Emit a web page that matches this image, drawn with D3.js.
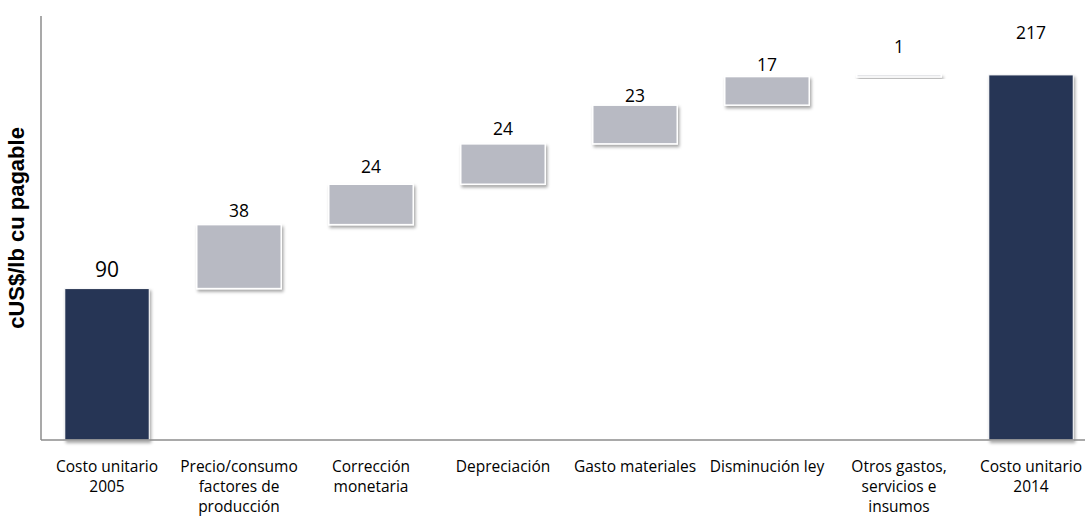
<!DOCTYPE html>
<html>
<head>
<meta charset="utf-8">
<script src="https://cdn.jsdelivr.net/npm/d3@7"></script>
<style>
  body { margin: 0; background: #fff; }
  svg { display: block; }
</style>
</head>
<body>
<div id="chart"></div>
<script>
// waterfall data: step categories and their deltas
var categories = [
  "Costo unitario\n2005",
  "Precio/consumo\nfactores de\nproducción",
  "Corrección\nmonetaria",
  "Depreciación",
  "Gasto materiales",
  "Disminución ley",
  "Otros gastos,\nservicios e\ninsumos",
  "Costo unitario\n2014"
];
var values = [90, 38, 24, 24, 23, 17, 1, 217];
var isTotal = [true, false, false, false, false, false, false, true];
var yTitle = "cUS$/lb cu pagable";

var width = 1085, height = 519;
var margin = {top: 16, left: 41, bottom: 79};

var svg = d3.select("#chart").append("svg")
    .attr("width", width)
    .attr("height", height);

var defs = svg.append("defs");
var f = defs.append("filter").attr("id", "shadow")
    .attr("x", "-10%").attr("y", "-50%").attr("width", "130%").attr("height", "250%");
f.append("feDropShadow")
    .attr("dx", 1.5).attr("dy", 2.5)
    .attr("stdDeviation", 1.5)
    .attr("flood-color", "#000")
    .attr("flood-opacity", 0.35);

// running start/end for each step
var steps = [];
var run = 0;
values.forEach(function(v, i) {
  if (isTotal[i]) {
    steps.push({cat: categories[i], v: v, y0: 0, y1: v, total: true});
    run = v;
  } else {
    steps.push({cat: categories[i], v: v, y0: run, y1: run + v, total: false});
    run += v;
  }
});

var x = d3.scaleBand()
    .domain(categories)
    .range([margin.left, 1097])
    .paddingInner(0.36)
    .paddingOuter(0.18);

var y = d3.scaleLinear()
    .domain([0, 252])
    .range([height - margin.bottom, margin.top]);

var g = svg.append("g");

g.selectAll(".bar")
  .data(steps)
  .enter().append("rect")
    .attr("class", "bar")
    .attr("x", function(d) { return x(d.cat); })
    .attr("width", x.bandwidth())
    .attr("y", function(d) { return y(d.y1); })
    .attr("height", function(d) { return Math.max(2, y(d.y0) - y(d.y1)); })
    .attr("fill", function(d) { return d.total ? "#283655" : "#b8bac3"; })
    .attr("stroke", "#fff")
    .attr("stroke-width", function(d) { return d.total ? 1 : 1.5; })
    .attr("filter", "url(#shadow)");

// value labels (gap above each bar, as in the source)
var labelGap = [12, 8, 11, 9, 3, 6, 22, 36];
g.selectAll(".val")
  .data(steps)
  .enter().append("text")
    .attr("class", "val")
    .attr("x", function(d) { return x(d.cat) + x.bandwidth() / 2; })
    .attr("y", function(d, i) { return y(d.y1) - labelGap[i]; })
    .attr("text-anchor", "middle")
    .attr("font-family", "'Open Sans', Lato, sans-serif")
    .attr("font-size", function(d, i) { return i === 0 ? 21 : 17.5; })
    .attr("fill", "#000")
    .text(function(d) { return d.v; });

// axes
var axisG = svg.append("g");
axisG.append("line")
    .attr("x1", margin.left).attr("x2", margin.left)
    .attr("y1", margin.top).attr("y2", y(0))
    .attr("stroke", "#8c8c8c").attr("stroke-width", 1.5);
axisG.append("line")
    .attr("x1", margin.left).attr("x2", width)
    .attr("y1", y(0)).attr("y2", y(0))
    .attr("stroke", "#8c8c8c").attr("stroke-width", 1.5);

var xAxis = svg.append("g")
    .attr("transform", "translate(0," + y(0) + ")")
    .call(d3.axisBottom(x).tickSize(0).tickFormat(""));
xAxis.select(".domain").remove();

xAxis.selectAll(".tick").each(function(d) {
  var t = d3.select(this).append("text")
      .attr("text-anchor", "middle")
      .attr("font-family", "'Open Sans', Lato, sans-serif")
      .attr("font-size", 15.5)
      .attr("fill", "#000");
  d.split("\n").forEach(function(line, k) {
    t.append("tspan").attr("x", 0).attr("y", 32 + k * 20).text(line);
  });
});

svg.append("text")
    .attr("transform", "translate(24," + ((margin.top + y(0)) / 2) + ") rotate(-90)")
    .attr("text-anchor", "middle")
    .attr("font-family", "'Liberation Sans', Arial, sans-serif")
    .attr("font-weight", "bold")
    .attr("font-size", 22)
    .attr("fill", "#000")
    .text(yTitle);
</script>
</body>
</html>
